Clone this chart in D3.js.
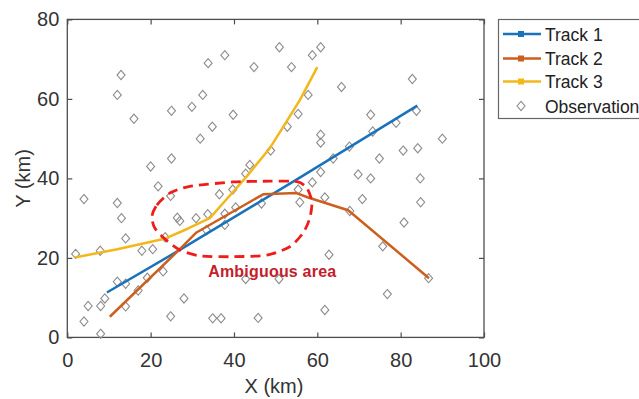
<!DOCTYPE html>
<html>
<head>
<meta charset="utf-8">
<script src="https://cdn.jsdelivr.net/npm/d3@7"></script>
<style>
  body { margin: 0; background: #fff; }
  svg { display: block; font-family: "Liberation Sans", Arial, sans-serif; }
</style>
</head>
<body>
<svg id="chart" width="639" height="399"></svg>
<script>
// track estimates (x km, y km)
const track1 = [ [9.5, 11.3], [27, 22], [55.5, 40], [84, 58.3] ];
const track2 = [ [10.2, 5.2], [27, 22.2], [31, 26.4], [47, 36], [55, 36.3], [57.8, 35.2], [67.4, 32], [86.8, 14.9] ];
const track3 = [ [1.8, 20.1], [12, 22.2], [23.6, 24.9], [29, 27.4], [34.2, 30], [38, 34.5], [42.5, 39.8],
                 [48.6, 47.6], [52.6, 54.3], [55.8, 59.7], [60, 68] ];

// raw observations
const observations = [
  [12.9, 66], [12, 61], [16, 55], [25, 57], [29.9, 58], [32.5, 61], [31.9, 50], [25, 45], [20, 43],
  [33.8, 69], [37.8, 71], [34.8, 53], [39.8, 56], [21.8, 38], [50.9, 73], [60.8, 73], [58.8, 71],
  [44.8, 68], [53.8, 68], [65.8, 63], [57.8, 61], [55.4, 56.2], [52.8, 53], [60.8, 51], [60.8, 49],
  [48.8, 47], [43.8, 43.4], [42.8, 41.2], [63.8, 45], [60.8, 41.6], [82.8, 65], [72.8, 56], [83.8, 57],
  [78.9, 54], [73.3, 51.8], [90, 50], [67.7, 48], [80.6, 47], [84.1, 47.6], [74.9, 45], [69.8, 41],
  [72.8, 40], [84.7, 40], [4, 34.8], [12, 33.8], [24.8, 35.6], [13, 30], [26.4, 30.1], [27, 29.3],
  [30.9, 30], [14, 24.9], [23.5, 25.2], [2, 21], [7.9, 21.8], [17.9, 21.8], [20.5, 22.2], [23, 16.6],
  [12, 14], [14, 13.5], [19.2, 15], [17, 11.8], [9, 9.8], [5, 7.9], [8, 7.9], [14, 7.8], [28, 9.8],
  [4, 4], [24.8, 5.3], [8, 0.9], [34.9, 4.8], [36.9, 4.8], [36.5, 36], [39.7, 37.2], [33.7, 31],
  [37.8, 31.1], [40.4, 32.7], [37.8, 28.3], [33.4, 27], [46.6, 33.7], [58.8, 39], [55.4, 37.2],
  [55.8, 34], [61.8, 35.2], [70.8, 34.8], [84.8, 34], [67.8, 31.8], [80.8, 28.9], [75.7, 22.9],
  [62.8, 20.8], [86.7, 14.9], [76.8, 10.9], [61.8, 6.9], [45.8, 4.9], [42.8, 14.7], [50.8, 14.7]
];

// hand drawn "ambiguous area" outline, in data units
const ambiguousOutline = [
  [20.3, 30.4], [21.5, 33.3], [24.6, 36.3], [29.4, 38.0], [39.8, 39.1], [48.6, 39.3], [55.1, 39.2],
  [57.5, 37.6], [58.7, 34.1], [58.2, 30.0], [56.6, 26.3], [53.4, 22.8], [47.9, 20.7], [39.8, 20.3],
  [31.8, 20.5], [27.0, 22.0], [23.7, 24.5], [21.0, 27.5]
];

const xTicks = [ 0, 20, 40, 60, 80, 100 ];
const yTicks = [ 0, 20, 40, 60, 80 ];
const trackNames = [ 'Track 1', 'Track 2', 'Track 3' ];
const trackColors = [ '#1a72bb', '#cc5f1e', '#f2b71b' ];

const svg = d3.select('#chart');

const x = d3.scaleLinear().domain([ 0, 100 ]).range([ 67.3, 484 ]);
const y = d3.scaleLinear().domain([ 0, 80 ]).range([ 337.4, 19.4 ]);

svg.append('rect').attr('width', 639).attr('height', 399).attr('fill', '#fff');

// axes with inward ticks on all four sides
function styleAxis(g) {
  g.select('.domain').remove();
  g.selectAll('line').attr('stroke', '#4d4d4d').attr('stroke-width', 1.2);
  g.selectAll('text').attr('fill', '#333').attr('font-size', 20)
    .attr('font-family', '"Liberation Sans", Arial, sans-serif');
}
svg.append('g').attr('transform', `translate(0,${y(0)})`)
  .call(d3.axisBottom(x).tickValues(xTicks).tickSizeInner(-5).tickSizeOuter(0).tickPadding(15))
  .call(styleAxis);
svg.append('g').attr('transform', `translate(${x(0)},0)`)
  .call(d3.axisLeft(y).tickValues(yTicks).tickSizeInner(-5).tickSizeOuter(0).tickPadding(8))
  .call(styleAxis);
svg.append('g').attr('transform', `translate(0,${y(80)})`)
  .call(d3.axisTop(x).tickValues(xTicks).tickSizeInner(-5).tickSizeOuter(0).tickFormat(''))
  .call(styleAxis);
svg.append('g').attr('transform', `translate(${x(100)},0)`)
  .call(d3.axisRight(y).tickValues(yTicks).tickSizeInner(-5).tickSizeOuter(0).tickFormat(''))
  .call(styleAxis);

svg.append('rect')
  .attr('x', x(0)).attr('y', y(80))
  .attr('width', x(100) - x(0)).attr('height', y(0) - y(80))
  .attr('fill', 'none').attr('stroke', '#4d4d4d').attr('stroke-width', 1.3);

// axis titles
svg.append('text').attr('x', 274).attr('y', 393).attr('text-anchor', 'middle')
  .attr('font-size', 20).attr('fill', '#333').text('X (km)');
svg.append('text').attr('transform', `translate(30,${(y(0) + y(80)) / 2}) rotate(-90)`)
  .attr('text-anchor', 'middle').attr('font-size', 20).attr('fill', '#333').text('Y (km)');

// observation diamonds
const diamond = {
  draw(ctx, size) {
    const h = Math.sqrt(size) / 2;
    ctx.moveTo(0, -h * 1.15);
    ctx.lineTo(h, 0);
    ctx.lineTo(0, h * 1.15);
    ctx.lineTo(-h, 0);
    ctx.closePath();
  }
};
const diamondPath = d3.symbol().type(diamond).size(64);

svg.append('g').selectAll('path')
  .data(observations)
  .join('path')
  .attr('d', diamondPath)
  .attr('transform', d => `translate(${x(d[0])},${y(d[1])})`)
  .attr('fill', 'none').attr('stroke', '#8c8c8c').attr('stroke-width', 1.1);

// tracks
const line = d3.line().x(d => x(d[0])).y(d => y(d[1]));
[ track1, track2, track3 ].forEach((t, i) => {
  svg.append('path').datum(t).attr('d', line)
    .attr('fill', 'none').attr('stroke', trackColors[i]).attr('stroke-width', 2.5)
    .attr('stroke-linejoin', 'round');
});

// ambiguous area
svg.append('path').datum(ambiguousOutline)
  .attr('d', d3.line().x(d => x(d[0])).y(d => y(d[1])).curve(d3.curveCardinalClosed.tension(0.3)))
  .attr('fill', 'none').attr('stroke', '#f01c1c').attr('stroke-width', 2.8)
  .attr('stroke-dasharray', '10,6');

svg.append('text').attr('x', x(33.8)).attr('y', y(15.3))
  .attr('font-size', 16).attr('font-weight', 'bold').attr('fill', '#c4202a')
  .attr('textLength', 128).text('Ambiguous area');

// legend
const legend = svg.append('g');
legend.append('rect').attr('x', 498.5).attr('y', 19.5).attr('width', 200).attr('height', 99)
  .attr('fill', '#fff').attr('stroke', '#666').attr('stroke-width', 1.2);

const rowY = [ 34, 58.5, 81.5, 106 ];
trackNames.forEach((name, i) => {
  legend.append('line').attr('x1', 503).attr('x2', 541).attr('y1', rowY[i]).attr('y2', rowY[i])
    .attr('stroke', trackColors[i]).attr('stroke-width', 2.5);
  legend.append('rect').attr('x', 518).attr('y', rowY[i] - 3).attr('width', 6).attr('height', 6)
    .attr('fill', trackColors[i]);
  legend.append('text').attr('x', 545).attr('y', rowY[i] + 6.5)
    .attr('font-size', 17.5).attr('fill', '#222').text(name);
});
legend.append('path').attr('d', diamondPath)
  .attr('transform', `translate(521,${rowY[3]})`)
  .attr('fill', 'none').attr('stroke', '#8c8c8c').attr('stroke-width', 1.1);
legend.append('text').attr('x', 545).attr('y', rowY[3] + 6.5)
  .attr('font-size', 17.5).attr('fill', '#222').text('Observation');
</script>
</body>
</html>
